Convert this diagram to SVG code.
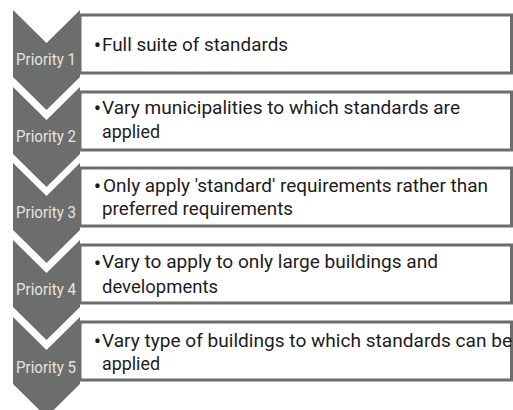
<svg xmlns="http://www.w3.org/2000/svg" width="513" height="410" viewBox="0 0 513 410">
<style>
.box{fill:#ffffff;stroke:#6b6e6a;stroke-width:3}
.chev{fill:#6b6e6a}
.lbl{font-family:Roboto,"Liberation Sans",sans-serif;font-size:16.5px;fill:#e4e5e3}
.txt{font-family:Roboto,"Liberation Sans",sans-serif;font-size:18.5px;fill:#1c1c1c}
.bul{font-family:Roboto,"Liberation Sans",sans-serif;font-size:22px;fill:#1c1c1c;text-anchor:middle}
</style>
<rect width="513" height="410" fill="#ffffff"/>
<g id="priority1">
<rect class="box" x="80" y="15" width="431.5" height="58"/>
<polygon class="chev" points="13,10 46.5,43 80,10 80,77 46.5,110 13,77"/>
<text class="lbl" x="16" y="64.5" textLength="60" lengthAdjust="spacingAndGlyphs">Priority 1</text>
<text class="bul" x="97.5" y="53">•</text>
<text class="txt" x="102" y="50.5" textLength="186" lengthAdjust="spacingAndGlyphs">Full suite of standards</text>
</g>
<g id="priority2">
<rect class="box" x="80" y="92" width="431.5" height="58"/>
<polygon class="chev" points="13,87 46.5,120 80,87 80,154 46.5,187 13,154"/>
<text class="lbl" x="16" y="142" textLength="60" lengthAdjust="spacingAndGlyphs">Priority 2</text>
<text class="bul" x="97.5" y="116">•</text>
<text class="txt" x="102" y="113.5" textLength="358" lengthAdjust="spacingAndGlyphs">Vary municipalities to which standards are</text>
<text class="txt" x="102" y="137.5" textLength="58" lengthAdjust="spacingAndGlyphs">applied</text>
</g>
<g id="priority3">
<rect class="box" x="80" y="168" width="431.5" height="58"/>
<polygon class="chev" points="13,163 46.5,196 80,163 80,230 46.5,263 13,230"/>
<text class="lbl" x="16" y="218" textLength="60" lengthAdjust="spacingAndGlyphs">Priority 3</text>
<text class="bul" x="97.5" y="194">•</text>
<text class="txt" x="103" y="191.5" textLength="385" lengthAdjust="spacingAndGlyphs">Only apply 'standard' requirements rather than</text>
<text class="txt" x="102" y="214.5" textLength="191" lengthAdjust="spacingAndGlyphs">preferred requirements</text>
</g>
<g id="priority4">
<rect class="box" x="80" y="245" width="431.5" height="58"/>
<polygon class="chev" points="13,240 46.5,273 80,240 80,307 46.5,340 13,307"/>
<text class="lbl" x="16" y="295" textLength="60" lengthAdjust="spacingAndGlyphs">Priority 4</text>
<text class="bul" x="97.5" y="270.5">•</text>
<text class="txt" x="102" y="268" textLength="336" lengthAdjust="spacingAndGlyphs">Vary to apply to only large buildings and</text>
<text class="txt" x="102" y="292.5" textLength="116" lengthAdjust="spacingAndGlyphs">developments</text>
</g>
<g id="priority5">
<rect class="box" x="80" y="322" width="431.5" height="58"/>
<polygon class="chev" points="13,317 46.5,350 80,317 80,384 46.5,417 13,384"/>
<text class="lbl" x="16" y="373" textLength="60" lengthAdjust="spacingAndGlyphs">Priority 5</text>
<text class="bul" x="97.5" y="349">•</text>
<text class="txt" x="102" y="346.5" textLength="410" lengthAdjust="spacingAndGlyphs">Vary type of buildings to which standards can be</text>
<text class="txt" x="102" y="370" textLength="58" lengthAdjust="spacingAndGlyphs">applied</text>
</g>
<g id="connectors"></g>
</svg>
